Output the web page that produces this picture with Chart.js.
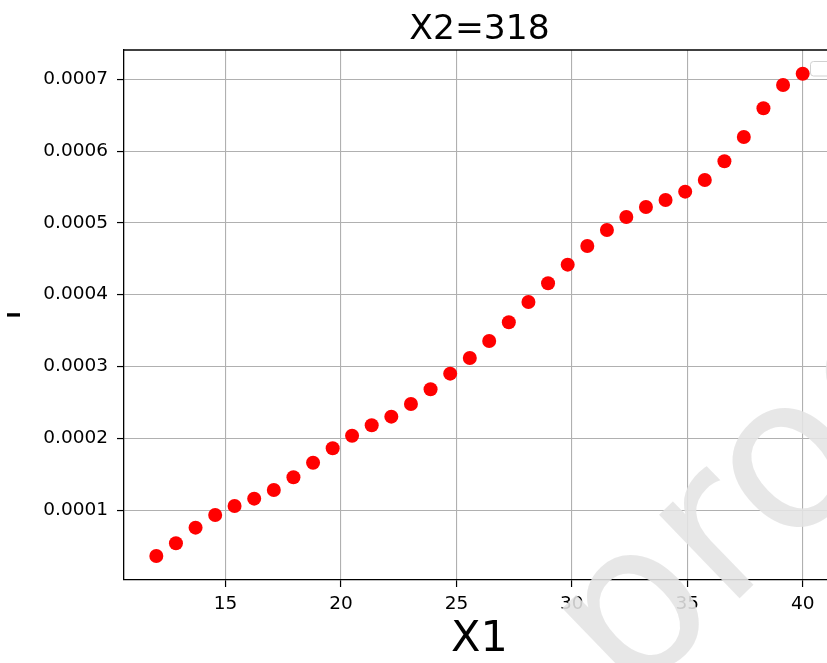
<!DOCTYPE html>
<html>
<head>
<meta charset="utf-8">
<script src="https://cdn.jsdelivr.net/npm/chart.js"></script>
<style>
  html, body { margin: 0; padding: 0; background: #fff; overflow: hidden; }
  #wrap { width: 850px; height: 663px; }
</style>
</head>
<body>
<div id="wrap"><canvas id="chart" width="850" height="663"></canvas></div>
<script>
// 図のタイトルと軸ラベル
var titleText = 'X2=318';
var xTitle = 'X1';
var yTitle = 'I';

// 目盛り
var xTicks = [15, 20, 25, 30, 35, 40];
var yTicks = [0.0001, 0.0002, 0.0003, 0.0004, 0.0005, 0.0006, 0.0007];

// データ (X1, I)
var x1 = [12.00, 12.85, 13.70, 14.55, 15.39, 16.24, 17.09, 17.94, 18.79, 19.64,
          20.48, 21.33, 22.18, 23.03, 23.88, 24.73, 25.58, 26.42, 27.27, 28.12,
          28.97, 29.82, 30.67, 31.52, 32.36, 33.21, 34.06, 34.91, 35.76, 36.61,
          37.45, 38.30, 39.15, 40.00];
var iVals = [3.61e-5, 5.38e-5, 7.55e-5, 9.32e-5, 1.057e-4, 1.159e-4, 1.280e-4, 1.457e-4, 1.660e-4, 1.861e-4,
             2.036e-4, 2.181e-4, 2.301e-4, 2.478e-4, 2.682e-4, 2.900e-4, 3.118e-4, 3.355e-4, 3.616e-4, 3.898e-4,
             4.159e-4, 4.418e-4, 4.678e-4, 4.901e-4, 5.082e-4, 5.221e-4, 5.319e-4, 5.435e-4, 5.597e-4, 5.858e-4,
             6.196e-4, 6.596e-4, 6.921e-4, 7.078e-4];

var points = [];
for (var k = 0; k < x1.length; k++) {
    points.push({ x: x1[k], y: iVals[k] });
}

var FONT = 'DejaVu Sans';

// タイトル・上の枠線・空の凡例・透かし
var extras = {
    id: 'extras',
    afterDraw: function (chart) {
        var ctx = chart.ctx;
        var a = chart.chartArea;
        ctx.save();
        // top spine
        ctx.strokeStyle = '#000';
        ctx.lineWidth = 1.3;
        ctx.beginPath();
        ctx.moveTo(a.left, a.top);
        ctx.lineTo(a.right, a.top);
        ctx.stroke();
        // title
        ctx.fillStyle = '#000';
        ctx.font = '34.5px "' + FONT + '"';
        ctx.textAlign = 'center';
        ctx.textBaseline = 'alphabetic';
        ctx.fillText(titleText, (a.left + a.right) / 2, 38.5);
        // empty legend box
        ctx.fillStyle = 'rgba(255,255,255,0.8)';
        ctx.strokeStyle = '#d0d0d0';
        ctx.lineWidth = 1;
        ctx.beginPath();
        ctx.roundRect(810.5, 61.5, 20, 14.5, 3);
        ctx.fill();
        ctx.stroke();
        // watermark
        ctx.translate(629, 705);
        ctx.rotate(-44 * Math.PI / 180);
        ctx.font = '212px "' + FONT + '"';
        ctx.textAlign = 'left';
        ctx.fillStyle = 'rgba(228,228,228,0.88)';
        ctx.fillText('proof', 0, 0);
        ctx.restore();
    }
};

var ctx = document.getElementById('chart').getContext('2d');
const chart = new Chart(ctx, {
    type: 'scatter',
    data: {
        datasets: [{
            data: points,
            backgroundColor: '#ff0000',
            borderWidth: 0,
            pointRadius: 7,
            pointHoverRadius: 7
        }]
    },
    options: {
        responsive: false,
        animation: false,
        devicePixelRatio: 1,
        layout: { padding: { top: 50, right: 15, left: 0, bottom: 0 } },
        plugins: {
            legend: { display: false },
            title: { display: false },
            tooltip: { enabled: false }
        },
        scales: {
            x: {
                type: 'linear',
                min: 10.6,
                max: 41.4,
                afterBuildTicks: function (s) { s.ticks = xTicks.map(function (v) { return { value: v }; }); },
                afterFit: function (s) { s.height = 83; },
                grid: { color: '#b0b0b0', lineWidth: 1.1, tickLength: 7, tickColor: '#000', tickWidth: 1.2 },
                border: { color: '#000', width: 1.3 },
                ticks: {
                    color: '#000',
                    padding: 6,
                    maxRotation: 0,
                    font: { family: FONT, size: 18.5 },
                    callback: function (v) { return String(v); }
                },
                title: {
                    display: true,
                    text: xTitle,
                    color: '#000',
                    font: { family: FONT, size: 43, lineHeight: 1 },
                    padding: { top: 0, bottom: 2 }
                }
            },
            y: {
                type: 'linear',
                min: 0.0000026,
                max: 0.0007408,
                afterBuildTicks: function (s) { s.ticks = yTicks.map(function (v) { return { value: v }; }); },
                afterFit: function (s) { s.width = 124; },
                grid: { color: '#b0b0b0', lineWidth: 1.1, tickLength: 7, tickColor: '#000', tickWidth: 1.2 },
                border: { color: '#000', width: 1.3 },
                ticks: {
                    color: '#000',
                    padding: 9,
                    font: { family: FONT, size: 18.5 },
                    callback: function (v) { return v.toFixed(4); }
                },
                title: {
                    display: true,
                    text: yTitle,
                    color: '#000',
                    font: { family: FONT, size: 18, weight: 'bold', lineHeight: 1.2 },
                    padding: { top: 4.5, bottom: 0 }
                }
            }
        }
    },
    plugins: [extras]
});
</script>
</body>
</html>
